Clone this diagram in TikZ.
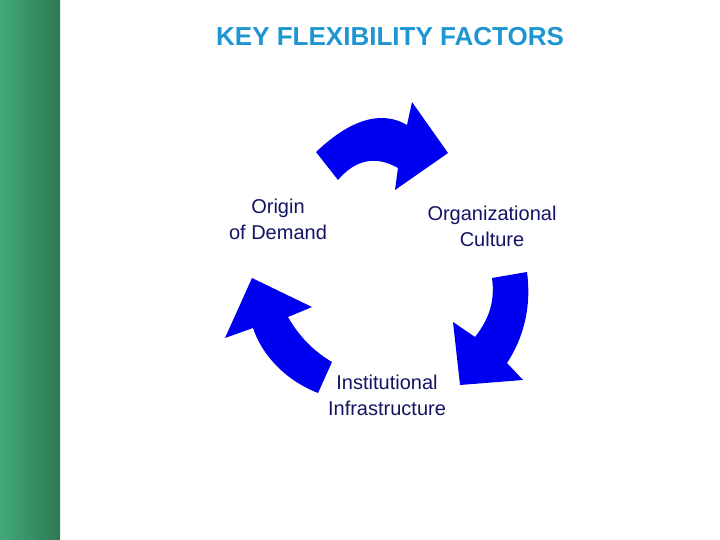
\documentclass[tikz,border=0pt]{standalone}
\usepackage{fontspec}
\setmainfont{Liberation Sans}
\begin{document}
\begin{tikzpicture}[x=1pt,y=-1pt,
  arr/.style={fill={rgb,255:red,0;green,0;blue,240},draw=none},
  lbl/.style={align=center,font=\fontsize{20}{26}\selectfont,text={rgb,255:red,20;green,20;blue,100},inner sep=0pt}]
\useasboundingbox (0,0) rectangle (720,540);
\fill[white] (0,0) rectangle (720,540);
\shade[left color={rgb,255:red,66;green,170;blue,120},right color={rgb,255:red,45;green,120;blue,80}] (0,0) rectangle (60,540);
\node[font=\bfseries\fontsize{26}{30}\selectfont,text={rgb,255:red,30;green,150;blue,210},inner sep=0pt] (title) at (390,37) {KEY FLEXIBILITY FACTORS};
\fill[arr] (316,152) .. controls (355,115) and (385,112) .. (407,125) -- (412,102) -- (448,153) -- (395,190) -- (398,168) .. controls (375,155) and (355,160) .. (338,180) -- cycle;
\fill[arr] (492,278) -- (527,272) .. controls (532,310) and (522,340) .. (507,363) -- (523,380) -- (460,385) -- (453,322) -- (475,337) .. controls (490,318) and (495,300) .. (492,278) -- cycle;
\fill[arr] (332,362) -- (318,393) .. controls (285,380) and (262,355) .. (253,328) -- (225,338) -- (252,278) -- (312,307) -- (288,317) .. controls (300,338) and (315,352) .. (332,362) -- cycle;
\node[lbl] (origin) at (278,219) {Origin\\of Demand};
\node[lbl] (org) at (492,226) {Organizational\\Culture};
\node[lbl] (inst) at (387,395) {Institutional\\Infrastructure};
\end{tikzpicture}
\end{document}
